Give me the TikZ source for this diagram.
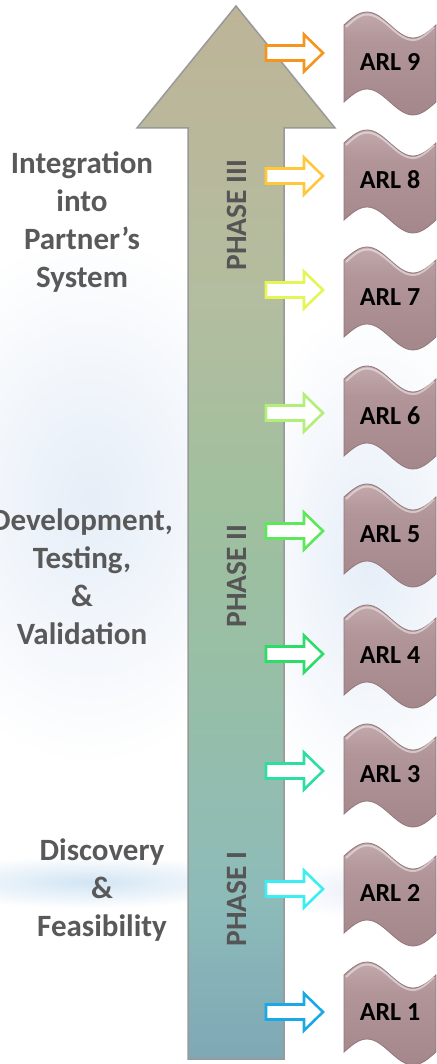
\documentclass[tikz,border=0pt]{standalone}
\usepackage{fontspec}
\setmainfont{Carlito}
\usetikzlibrary{fadings}

% colours of the main shaft, from bottom to top
\definecolor{sb0}{HTML}{7EA8B5}
\definecolor{sb1}{HTML}{8DBBB9}
\definecolor{sb2}{HTML}{96BEA8}
\definecolor{sb3}{HTML}{A0C09E}
\definecolor{sb4}{HTML}{B3BD9F}
\definecolor{sb5}{HTML}{BEB498}
% banner colours
\definecolor{fl0}{HTML}{A4878A}
\definecolor{fl1}{HTML}{B19598}
\definecolor{fl2}{HTML}{C2A9AC}
\definecolor{flline}{HTML}{937679}
% text and haze
\definecolor{labelgrey}{HTML}{595959}
\definecolor{phasegrey}{HTML}{555555}
\definecolor{hazeblue}{HTML}{E6EEF8}
\definecolor{bandblue}{HTML}{D2E5F4}
% level arrow outlines
\definecolor{lv1}{HTML}{1AA8E6}
\definecolor{lv2}{HTML}{3CEEF2}
\definecolor{lv3}{HTML}{2EDDA0}
\definecolor{lv4}{HTML}{2EDC6A}
\definecolor{lv5}{HTML}{5CE85A}
\definecolor{lv6}{HTML}{B2EE78}
\definecolor{lv7}{HTML}{E6F556}
\definecolor{lv8}{HTML}{FFC83C}
\definecolor{lv9}{HTML}{F5951E}

\pgfdeclareverticalshading{shaftshade}{100bp}{color(0bp)=(sb0); color(25bp)=(sb0); color(32.5bp)=(sb1); color(42bp)=(sb2); color(51.5bp)=(sb3); color(61bp)=(sb4); color(75bp)=(sb5); color(100bp)=(sb5)}
\pgfdeclareverticalshading{flagshade}{100bp}{color(0bp)=(fl0); color(25bp)=(fl0); color(60bp)=(fl1); color(75bp)=(fl2); color(100bp)=(fl2)}

% soft-edged patch for the sky
\tikzfading[name=softpatch, inner color=transparent!0, outer color=transparent!100]

\tikzset{
  bigarrow/.style={shading=shaftshade, draw=black!40, line width=1.5pt, line join=miter},
  flagbody/.style={shading=flagshade, draw=flline, line width=0.8pt},
  flagshine/.style={draw=white, opacity=0.45, line width=2pt},
  flagtext/.style={font=\bfseries\fontsize{26}{26}\selectfont, text=black, inner sep=0pt},
  levelarrow/.style={fill=white, line width=2.6pt, line join=miter},
  sidelabel/.style={font=\bfseries\fontsize{31}{38}\selectfont, text=labelgrey, align=center, inner sep=0pt},
  phaselabel/.style={font=\bfseries\fontsize{29.5}{29.5}\selectfont, text=phasegrey, rotate=90, inner sep=0pt},
}

% wavy banner: name, centre y, label
\newcommand\arlflag[3]{%
  \begin{scope}[shift={(0,#2)}]
    \path[flagbody] (344,-37) sin (367,-50) cos (390,-37) sin (413,-24) cos (436,-37)
      -- (436,40) sin (413,53) cos (390,40) sin (367,27) cos (344,40) -- cycle;
    \path[flagshine] (346,-35) sin (367,-47.5) cos (390,-35) sin (413,-22) cos (434,-35);
    \node[flagtext] (#1) at (390,0) {#3};
  \end{scope}}

% hollow block arrow pointing at a banner: centre y, colour
\newcommand\levelarrow[2]{%
  \draw[levelarrow, draw=#2] (266,{#1-7.5}) -- (304,{#1-7.5}) -- (304,{#1-18.5}) -- (323,#1)
    -- (304,{#1+18.5}) -- (304,{#1+7.5}) -- (266,{#1+7.5}) -- cycle;}

\begin{document}
\begin{tikzpicture}[x=1pt, y=-1pt]
  \useasboundingbox (0,0) rectangle (436,1064);
  \fill[white] (0,0) rectangle (436,1064);

  % soft sky in the background
  \fill[hazeblue, path fading=softpatch] (90,500) ellipse (190 and 260);
  \fill[hazeblue, path fading=softpatch] (370,560) ellipse (130 and 250);
  \fill[bandblue, path fading=softpatch] (90,882) ellipse (170 and 26);
  \fill[hazeblue, path fading=softpatch] (380,890) ellipse (100 and 30);

  % the main upward arrow
  \path[bigarrow] (188,1059) -- (188,128) -- (137,128) -- (236,6) -- (335,128)
    -- (284,128) -- (284,1059) -- cycle;

  \node[phaselabel] (p3) at (237,215) {PHASE III};
  \node[phaselabel] (p2) at (237,576) {PHASE II};
  \node[phaselabel] (p1) at (237,899) {PHASE I};

  % stage descriptions
  \node[sidelabel] (s3) at (82,222) {Integration\\into\\Partner’s\\System};
  \node[sidelabel] (s2) at (82,577) {Development,\\Testing,\\\&\\Validation};
  \node[sidelabel] (s1) at (102,890) {Discovery\\\&\\Feasibility};

  % readiness levels
  \arlflag{arl9}{62}{ARL 9}
  \arlflag{arl8}{180}{ARL 8}
  \arlflag{arl7}{297}{ARL 7}
  \arlflag{arl6}{416}{ARL 6}
  \arlflag{arl5}{534}{ARL 5}
  \arlflag{arl4}{655}{ARL 4}
  \arlflag{arl3}{774}{ARL 3}
  \arlflag{arl2}{893}{ARL 2}
  \arlflag{arl1}{1012}{ARL 1}

  \levelarrow{53}{lv9}
  \levelarrow{176}{lv8}
  \levelarrow{290}{lv7}
  \levelarrow{413}{lv6}
  \levelarrow{531}{lv5}
  \levelarrow{654}{lv4}
  \levelarrow{771}{lv3}
  \levelarrow{889}{lv2}
  \levelarrow{1012}{lv1}
\end{tikzpicture}
\end{document}
